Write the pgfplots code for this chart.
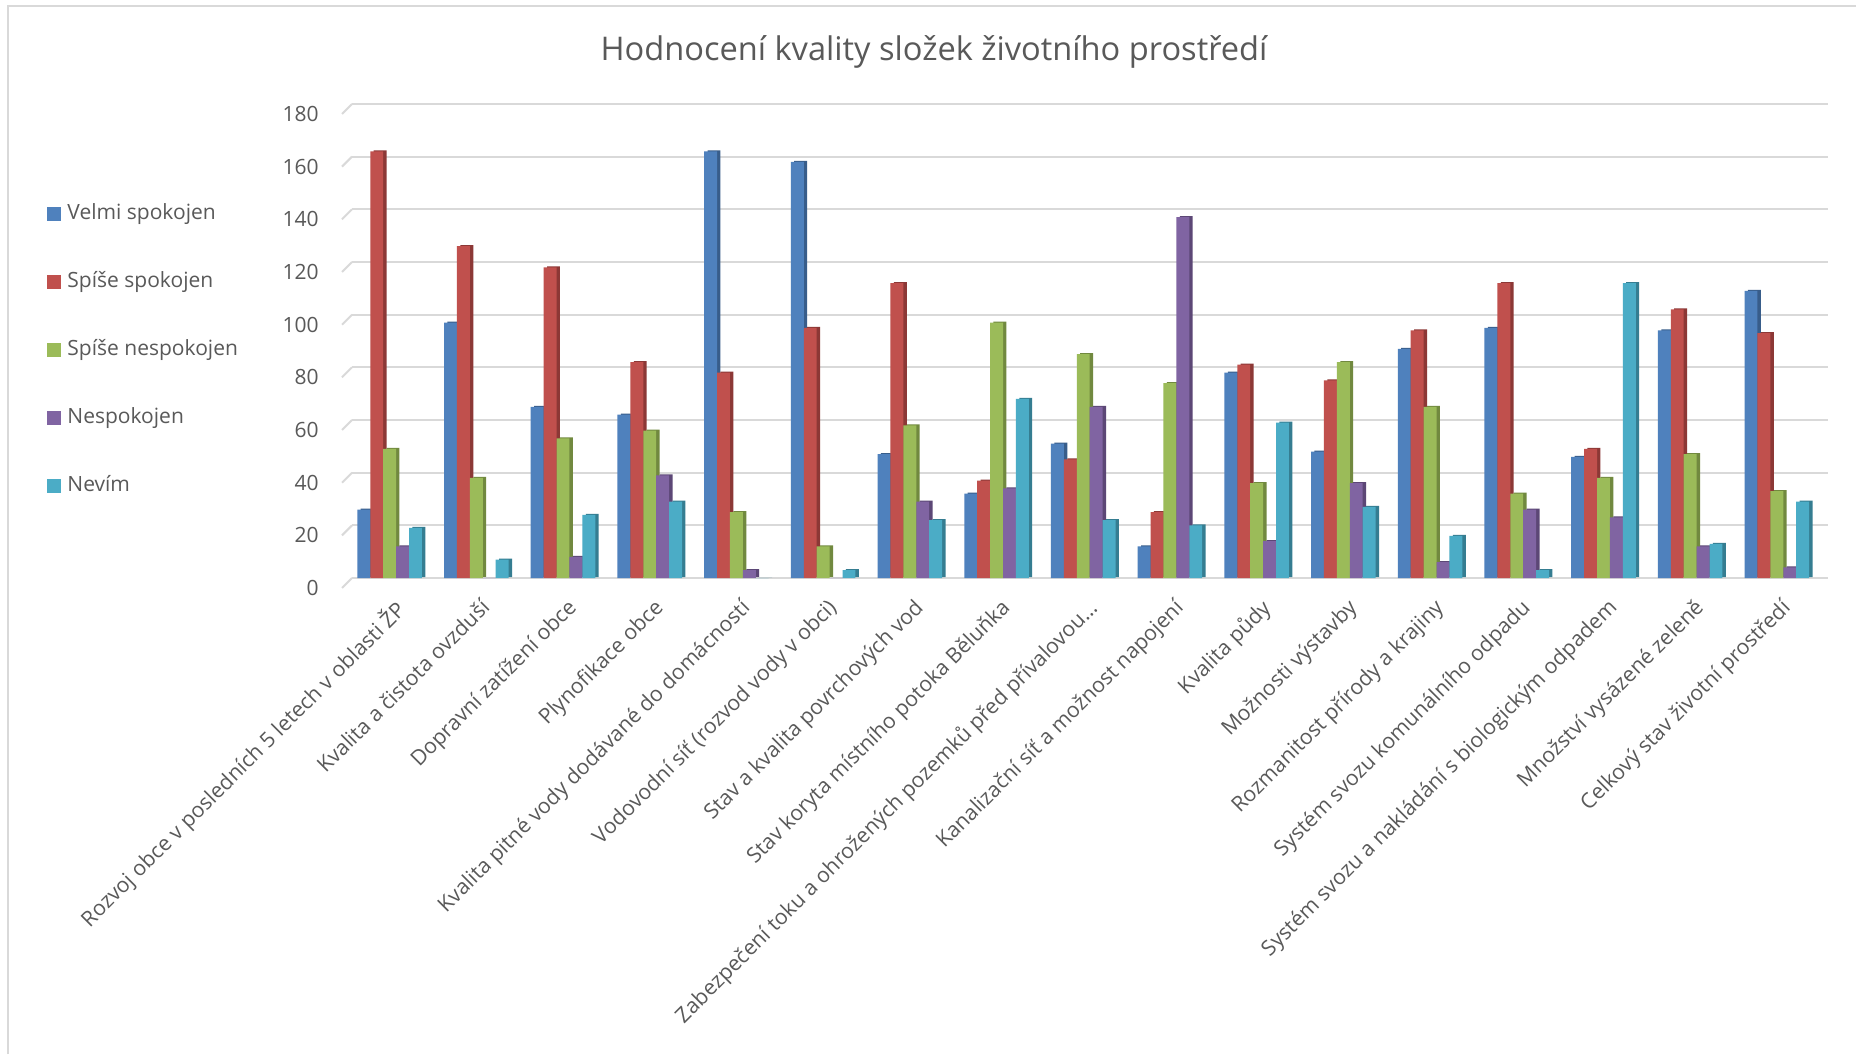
\documentclass[border=0pt]{standalone}
\usepackage{pgfplots}
\pgfplotsset{compat=1.18}
\usepackage{pgfplotstable}
\usepackage{fontspec}
\setmainfont{Open Sans}

\definecolor{txt}{HTML}{595959}
\definecolor{gridcol}{HTML}{D9D9D9}
\definecolor{cA}{HTML}{4F81BD}\definecolor{cAd}{HTML}{385D8A}
\definecolor{cB}{HTML}{C0504D}\definecolor{cBd}{HTML}{8C3836}
\definecolor{cC}{HTML}{9BBB59}\definecolor{cCd}{HTML}{71893F}
\definecolor{cD}{HTML}{8064A2}\definecolor{cDd}{HTML}{5C4776}
\definecolor{cE}{HTML}{4BACC6}\definecolor{cEd}{HTML}{357D91}

% počty odpovědí: velmi spokojen, spíše spokojen, spíše nespokojen, nespokojen, nevím
\pgfplotstableread{
x  vs  ss  sn  ne  nv
0  26  162 49  12  19
1  97  126 38  0   7
2  65  118 53  8   24
3  62  82  56  39  29
4  162 78  25  3   0
5  158 95  12  0   3
6  47  112 58  29  22
7  32  37  97  34  68
8  51  45  85  65  22
9  12  25  74  137 20
10 78  81  36  14  59
11 48  75  82  36  27
12 87  94  65  6   16
13 95  112 32  26  3
14 46  49  38  23  112
15 94  102 47  12  13
16 109 93  33  4   29
}\hodnoceni

\pgfplotsset{
  front/.style={ybar, bar width=0.149, bar shift=#1, draw=none},
  depth/.style={ybar, bar width=0.149, bar shift=#1, draw=none, forget plot,
                xshift=1.7pt, yshift=0.5pt},
}

\begin{document}
\begin{tikzpicture}
\useasboundingbox (0,0) rectangle (928pt,527pt);
\fill[white] (0,0) rectangle (928pt,527pt);
\draw[gridcol, line width=1pt] (4.1pt,0) -- (4.1pt,524pt) -- (928pt,524pt);
\node[text=txt, font=\fontsize{16.3}{19}\selectfont] at (467pt,501pt)
  {Hodnocení kvality složek životního prostředí};
\begin{axis}[
  at={(176pt,238pt)}, anchor=south west,
  scale only axis, width=738pt, height=237pt,
  xmin=-0.434, xmax=16.59, ymin=0, ymax=180,
  ytick={0,20,...,180},
  xtick={0,...,16},
  xticklabels={
    Rozvoj obce v posledních 5 letech v oblasti ŽP,
    Kvalita a čistota ovzduší,
    Dopravní zatížení obce,
    Plynofikace obce,
    Kvalita pitné vody dodávané do domácností,
    Vodovodní síť (rozvod vody v obci),
    Stav a kvalita povrchových vod,
    Stav koryta místního potoka Běluňka,
    Zabezpečení toku a ohrožených pozemků před přívalovou…,
    Kanalizační síť a možnost napojení,
    Kvalita půdy,
    Možnosti výstavby,
    Rozmanitost přírody a krajiny,
    Systém svozu komunálního odpadu,
    Systém svozu a nakládání s biologickým odpadem,
    Množství vysázené zeleně,
    Celkový stav životní prostředí},
  axis line style={draw=none},
  major tick length=0pt,
  ymajorgrids,
  major grid style={gridcol, line width=1pt},
  /pgf/number format/assume math mode=true,
  yticklabel style={anchor=east, inner sep=0pt, xshift=-16.5pt, yshift=-5pt,
    font=\fontsize{10.5}{12}\selectfont, text=txt},
  xticklabel style={xshift=1.5pt, yshift=-9.5pt, rotate=45, anchor=north east, inner sep=0pt,
    font=\fontsize{10.6}{12}\selectfont, text=txt},
  legend style={at={(-0.2066,0.793)}, anchor=north west, draw=none, fill=none,
    inner sep=0pt, row sep=22.5pt, font=\fontsize{10.5}{12}\selectfont, text=txt,
    nodes={inner sep=1pt, text height=7.5pt, text depth=2pt}},
  legend cell align=left,
  legend image code/.code={\fill[#1] (0pt,-3.5pt) rectangle (7pt,3.5pt); \path (9pt,0pt);},
  clip=false,
]
% short slanted edges of the side wall at each gridline
\pgfplotsinvokeforeach{0,20,...,180}{
  \draw[gridcol, line width=1pt] ([xshift=-5pt,yshift=-5pt]axis cs:-0.434,#1) -- (axis cs:-0.434,#1);
}
% each series: dark depth face first, then the front face
\addplot[depth=-0.298, fill=cAd] table[x=x,y=vs]{\hodnoceni};
\addplot[front=-0.298, fill=cA] table[x=x,y=vs]{\hodnoceni};
\addplot[depth=-0.149, fill=cBd] table[x=x,y=ss]{\hodnoceni};
\addplot[front=-0.149, fill=cB] table[x=x,y=ss]{\hodnoceni};
\addplot[depth=0, fill=cCd] table[x=x,y=sn]{\hodnoceni};
\addplot[front=0, fill=cC] table[x=x,y=sn]{\hodnoceni};
\addplot[depth=0.149, fill=cDd] table[x=x,y=ne]{\hodnoceni};
\addplot[front=0.149, fill=cD] table[x=x,y=ne]{\hodnoceni};
\addplot[depth=0.298, fill=cEd] table[x=x,y=nv]{\hodnoceni};
\addplot[front=0.298, fill=cE] table[x=x,y=nv]{\hodnoceni};
\legend{Velmi spokojen, Spíše spokojen, Spíše nespokojen, Nespokojen, Nevím}
\end{axis}
\end{tikzpicture}
\end{document}
